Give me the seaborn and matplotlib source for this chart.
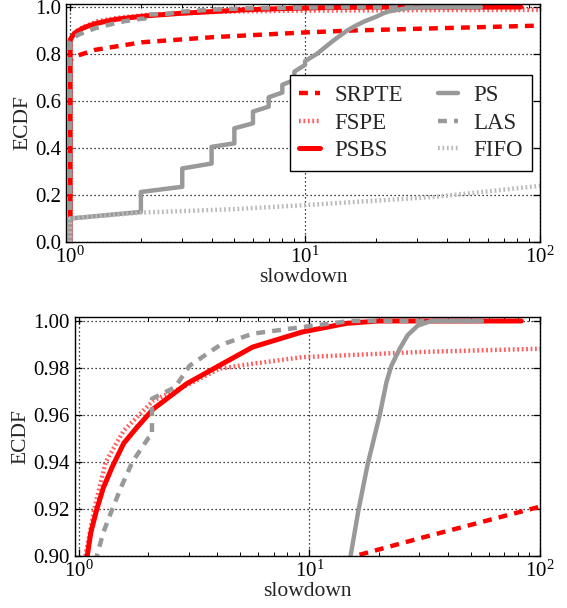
import numpy as np
import pandas as pd
import matplotlib
matplotlib.use("Agg")
import matplotlib.pyplot as plt
import seaborn as sns
from matplotlib.ticker import FormatStrFormatter, LogLocator

# === Données ===
psbs_x = [1, 1, 1.02, 1.05, 1.09, 1.13, 1.2, 1.28, 1.4, 1.57, 1.8, 2.11, 2.94, 4.08, 5.68, 9.3, 14.5, 20, 83]
psbs_y = [0, 0.86, 0.875, 0.89, 0.90, 0.91, 0.92, 0.929, 0.938, 0.948, 0.955, 0.9626, 0.9733, 0.9811, 0.9889, 0.9953, 0.999, 1.0, 1.0]

fspe_x = [1, 1, 1.02, 1.04, 1.07, 1.17, 1.31, 1.57, 2.11, 2.94, 4.08, 5.68, 9.3, 30, 100]
fspe_y = [0, 0.86, 0.875, 0.89, 0.90, 0.92, 0.94, 0.9534, 0.9662, 0.9726, 0.9797, 0.9818, 0.9846, 0.9868, 0.9882]

srpte_x = [1, 1, 1.05, 1.28, 2.02, 4.07, 10, 15.8, 30, 100]
srpte_y = [0, 0.775, 0.79, 0.818, 0.85, 0.872, 0.892, 0.90, 0.9075, 0.921]

las_x = [1, 1, 1.03, 1.1, 1.2, 1.28, 1.4, 1.54, 1.71, 2.0, 2.08, 2.08, 2.62, 3.03, 4.08, 5.68, 9.3, 15, 56]
las_y = [0, 0.85, 0.87, 0.885, 0.90, 0.91, 0.92, 0.93, 0.94, 0.95, 0.951, 0.9669, 0.9718, 0.981, 0.9896, 0.9946, 0.9974, 1.0, 1.0]

ps_x = [1, 1, 2, 2, 3, 3, 4, 4, 5, 5, 6, 6, 7, 7, 8, 8, 9, 9, 10, 10,
        11.2, 13.3, 15.1, 16.3, 17.9, 20.2, 21.6, 22.7, 24.6, 26.7, 29.5, 33.7, 56]
ps_y = [0, 0.10, 0.128, 0.213, 0.235, 0.313, 0.334, 0.405, 0.42, 0.484, 0.505, 0.555,
        0.576, 0.616, 0.636, 0.669, 0.69, 0.725, 0.754, 0.77,
        0.80, 0.86, 0.90, 0.919, 0.939, 0.96, 0.974, 0.981, 0.988, 0.994, 0.998, 1.0, 1.0]

fifo_x = [1, 1, 2, 5, 10, 35.7, 100]
fifo_y = [0, 0.10, 0.125, 0.14, 0.157, 0.192, 0.239]

top_yticks = [0.0, 0.2, 0.4, 0.6, 0.8, 1.0]
bottom_yticks = [0.90, 0.92, 0.94, 0.96, 0.98, 1.00]

# === Style ===
sns.set_style("ticks")
plt.rcParams['font.family'] = ['Liberation Serif', 'DejaVu Serif']
plt.rcParams['mathtext.fontset'] = 'custom'
plt.rcParams['mathtext.rm'] = 'Liberation Serif'
plt.rcParams['font.size'] = 15

series = [
    ("SRPTE", srpte_x, srpte_y, dict(color='#ff0000', linestyle=(0, (2, 1.6)), linewidth=3.2)),
    ("FSPE", fspe_x, fspe_y, dict(color='#ff4040', linestyle=(0, (0.4, 0.6)), linewidth=3.2, alpha=0.85)),
    ("PSBS", psbs_x, psbs_y, dict(color='#ff0000', linestyle='-', linewidth=3.6)),
    ("PS", ps_x, ps_y, dict(color='#999999', linestyle='-', linewidth=3.2)),
    ("LAS", las_x, las_y, dict(color='#999999', linestyle=(0, (2, 1.6)), linewidth=3.2)),
    ("FIFO", fifo_x, fifo_y, dict(color='#bbbbbb', linestyle=(0, (0.4, 0.6)), linewidth=3.2)),
]

fig = plt.figure(figsize=(5.67, 6.08), dpi=100)
ax1 = fig.add_axes([66 / 567, (608 - 242) / 608, 474 / 567, 238 / 608])
ax2 = fig.add_axes([74.5 / 567, (608 - 556) / 608, 465.5 / 567, 239 / 608])

for ax in (ax1, ax2):
    for name, xs, ys, kw in series:
        d = pd.DataFrame({'x': xs, 'y': ys})
        sns.lineplot(data=d, x='x', y='y', ax=ax, sort=False, estimator=None,
                     label=name, legend=False, **kw)
    ax.set_xscale('log')
    ax.set_xlim(0.96, 100)
    ax.xaxis.set_major_locator(LogLocator(base=10))
    ax.xaxis.set_minor_locator(LogLocator(base=10, subs=np.arange(2, 10)))
    ax.tick_params(which='both', direction='in', top=True, right=True, colors='black',
                   labelsize=15)
    ax.tick_params(which='major', length=5, width=0.9)
    ax.tick_params(which='minor', length=3, width=0.7)
    ax.grid(True, which='major', color='black', linestyle=(0, (1, 2.2)), linewidth=0.9)
    ax.set_axisbelow(True)
    for s in ax.spines.values():
        s.set_color('black')
        s.set_linewidth(1.0)
    ax.set_xlabel("slowdown", fontsize=15.5, labelpad=0)
    ax.set_ylabel("ECDF", fontsize=15.5, labelpad=2)

ax1.set_ylim(0.0, 1.013)
ax1.set_yticks(top_yticks)
ax1.yaxis.set_major_formatter(FormatStrFormatter('%.1f'))

ax2.set_ylim(0.90, 1.0017)
ax2.set_yticks(bottom_yticks)
ax2.yaxis.set_major_formatter(FormatStrFormatter('%.2f'))

h, l = ax1.get_legend_handles_labels()
leg = ax1.legend(h[:6], l[:6], ncol=2, loc='upper right', bbox_to_anchor=(0.983, 0.70),
                 frameon=True, fancybox=False, edgecolor='black', framealpha=1,
                 fontsize=16.5, handlelength=0.9, columnspacing=1.5, borderaxespad=0,
                 labelspacing=0.3, handletextpad=0.65, borderpad=0.4)
leg.get_frame().set_linewidth(1.0)

fig.savefig("out.png", dpi=100)
